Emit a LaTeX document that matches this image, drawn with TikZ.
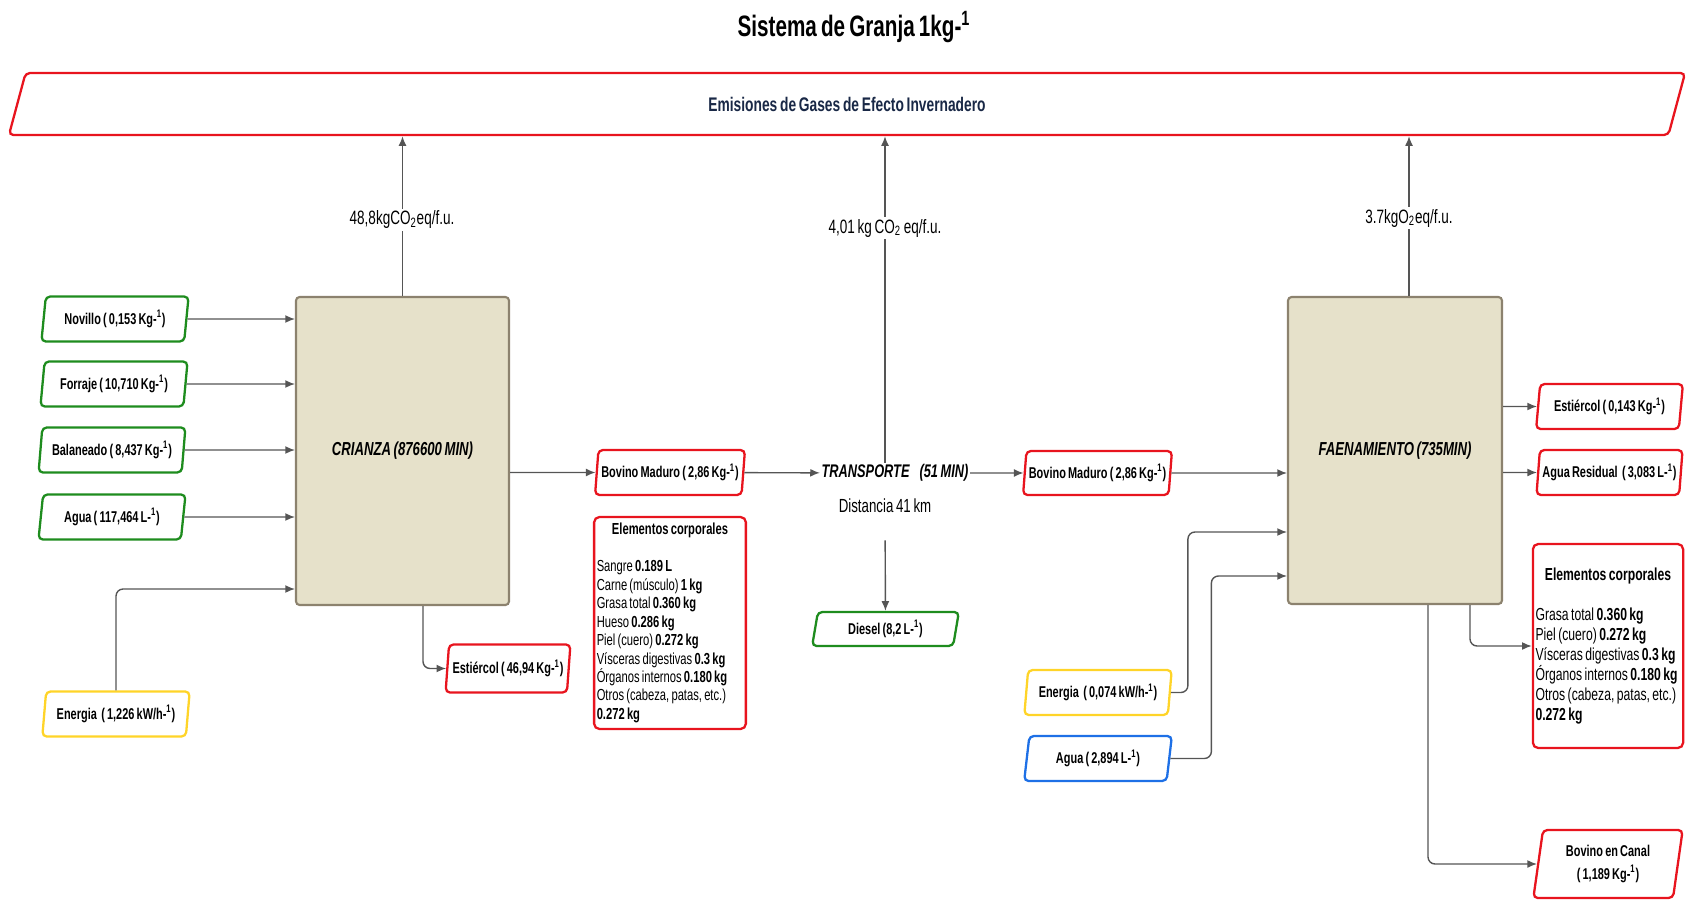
\documentclass[tikz,border=0pt]{standalone}
\usepackage{fontspec}
\setmainfont{Liberation Sans}[FakeStretch=0.7, WordSpace=0.72]
\usetikzlibrary{arrows.meta,shapes.geometric}

\definecolor{verde}{RGB}{30,140,30}
\definecolor{rojo}{RGB}{232,20,30}
\definecolor{amarillo}{RGB}{255,212,40}
\definecolor{azul}{RGB}{30,112,230}
\definecolor{beige}{RGB}{230,225,202}
\definecolor{borde}{RGB}{140,130,110}
\definecolor{linea}{RGB}{85,85,85}
\definecolor{marino}{RGB}{25,40,70}

\tikzstyle{caja}=[trapezium, trapezium left angle=81, trapezium right angle=99,
  trapezium stretches=true, line width=1.3pt, rounded corners=2.5pt, fill=white,
  minimum width=2.96cm, minimum height=0.9cm, inner sep=1pt,
  font=\fontsize{8.9}{10}\selectfont\bfseries]
\tikzstyle{entrada}=[caja, draw=verde]
\tikzstyle{salida}=[caja, draw=rojo]
\tikzstyle{proceso}=[rectangle, draw=borde, fill=beige, line width=1.2pt,
  rounded corners=2pt, font=\fontsize{10.7}{12}\selectfont\bfseries\itshape]
\tikzstyle{elem}=[rectangle, draw=rojo, line width=1.3pt, rounded corners=3pt,
  inner sep=1.5pt, align=flush left]
\tikzstyle{arr}=[draw, color=linea, line width=0.8pt, ->, rounded corners=4pt]
\tikzstyle{co2}=[fill=white, inner sep=1pt, font=\fontsize{11}{12}\selectfont]

\newcommand{\elemtitulo}{\makebox[\linewidth][c]{\bfseries Elementos corporales}}

\begin{document}
\begin{tikzpicture}[x=0.02cm, y=-0.02cm, >={Latex[length=5.5pt,width=4.5pt]}]
    \useasboundingbox (0,0) rectangle (1686,899);
    \node[font=\fontsize{16.8}{18}\selectfont\bfseries] (titulo) at (854,27)
        {Sistema de Granja 1kg-\textsuperscript{1}};
    \node[caja, draw=rojo, minimum width=33.54cm, minimum height=1.24cm,
        font=\fontsize{11.2}{12}\selectfont\bfseries\color{marino}] (emis) at (847,104)
        {Emisiones de Gases de Efecto Invernadero};

    % procesos
    \node[proceso, minimum width=4.26cm, minimum height=6.16cm] (crianza) at (402.5,451)
        {CRIANZA (876600 MIN)};
    \node[proceso, minimum width=4.28cm, minimum height=6.14cm] (faen) at (1395,450.5)
        {FAENAMIENTO (735MIN)};
    \node[font=\fontsize{10.4}{12}\selectfont\bfseries\itshape, inner sep=0pt, outer sep=1pt]
        (transp) at (895,473) {TRANSPORTE\hspace{0.55em}(51 MIN)};
    \node[font=\fontsize{10.8}{12}\selectfont] (dist) at (885,506) {Distancia 41 km};

    % entradas crianza
    \foreach \pos/\name/\val in {{(115,319)/nov/{Novillo ( 0,153 Kg-\textsuperscript{1})}},
        {(114,384)/forr/{Forraje ( 10,710 Kg-\textsuperscript{1})}},
        {(112,450)/bal/{Balaneado ( 8,437 Kg-\textsuperscript{1})}},
        {(112,517)/agua/{Agua ( 117,464 L-\textsuperscript{1})}}}
        \node[entrada] (\name) at \pos {\val};
    \node[caja, draw=amarillo] (ener) at (116,714) {Energia\ \ ( 1,226 kW/h-\textsuperscript{1})};
    \foreach \name in {nov,forr,bal,agua}
        \path[arr] (\name) -- (\name -| crianza.west);
    \path[arr] (ener) |- (crianza.west |- 0,589);

    % salidas crianza
    \node[salida, minimum width=2.5cm, minimum height=0.96cm] (est1) at (508,668.5)
        {Estiércol ( 46,94 Kg-\textsuperscript{1})};
    \node[salida, minimum width=3cm] (bov1) at (670,472.5) {Bovino Maduro ( 2,86 Kg-\textsuperscript{1})};
    \node[elem, minimum height=4.24cm, text width=2.93cm,
        font=\fontsize{9.1}{10.5}\selectfont] (elem1) at (670,623)
        {\elemtitulo\\[\baselineskip]
        Sangre \textbf{0.189 L}\\ Carne (músculo) \textbf{1 kg}\\ Grasa total \textbf{0.360 kg}\\
        Hueso \textbf{0.286 kg}\\ Piel (cuero) \textbf{0.272 kg}\\ Vísceras digestivas \textbf{0.3 kg}\\
        Órganos internos \textbf{0.180 kg}\\ Otros (cabeza, patas, etc.)\\ \textbf{0.272 kg}};
    \path[arr] (423,0 |- crianza.south) |- (est1);
    \path[arr] (crianza.east |- bov1) -- (bov1);

    % transporte
    \node[entrada, minimum width=2.94cm, minimum height=0.68cm] (diesel) at (885.5,629)
        {Diesel (8,2 L-\textsuperscript{1})};
    \path[arr] (bov1) -- (transp);
    \path[arr, shorten <=12pt] (dist) -- (diesel);

    % entradas faenamiento
    \node[salida, minimum width=2.98cm, minimum height=0.88cm] (bov2) at (1097.5,473)
        {Bovino Maduro ( 2,86 Kg-\textsuperscript{1})};
    \node[caja, draw=amarillo] (ener2) at (1098,692.5) {Energia\ \ ( 0,074 kW/h-\textsuperscript{1})};
    \node[caja, draw=azul] (agua2) at (1098,758.5) {Agua ( 2,894 L-\textsuperscript{1})};
    \path[arr] (transp) -- (bov2);
    \path[arr] (bov2) -- (bov2 -| faen.west);
    \path[arr] (ener2.east) -- ++(17,0) |- (faen.west |- 0,532);
    \path[arr] (agua2.east) -- ++(41,0) |- (faen.west |- 0,576);

    % salidas faenamiento
    \node[salida, minimum width=2.94cm] (est2) at (1609.5,406.5) {Estiércol ( 0,143 Kg-\textsuperscript{1})};
    \node[salida, minimum width=2.94cm] (res) at (1609.5,472.5) {Agua Residual\ \ ( 3,083 L-\textsuperscript{1})};
    \node[elem, minimum height=4.08cm, text width=2.9cm,
        font=\fontsize{9.9}{11.4}\selectfont] (elem2) at (1608,646)
        {\elemtitulo\\[\baselineskip]
        Grasa total \textbf{0.360 kg}\\ Piel (cuero) \textbf{0.272 kg}\\ Vísceras digestivas \textbf{0.3 kg}\\
        Órganos internos \textbf{0.180 kg}\\ Otros (cabeza, patas, etc.)\\ \textbf{0.272 kg}};
    \node[salida, minimum width=3cm, minimum height=1.36cm, align=center] (canal) at (1608,864)
        {Bovino en Canal\\[3pt] ( 1,189 Kg-\textsuperscript{1})};
    \foreach \name in {est2,res}
        \path[arr] (faen.east |- \name) -- (\name);
    \path[arr] (1470,0 |- faen.south) |- (elem2);
    \path[arr] (1428,0 |- faen.south) |- (canal);

    % emisiones
    \path[arr] (crianza.north) -- (crianza.north |- emis.south);
    \path[arr] (dist |- transp.north) -- (dist |- emis.south);
    \path[arr] (1409,0 |- faen.north) -- (1409,0 |- emis.south);
    \node[co2] (co2a) at (402,220) {48,8kgCO\textsubscript{2}eq/f.u.};
    \node[co2] (co2b) at (885,228) {4,01 kg CO\textsubscript{2} eq/f.u.};
    \node[co2] (co2c) at (1409,218) {3.7kgO\textsubscript{2}eq/f.u.};
\end{tikzpicture}
\end{document}
